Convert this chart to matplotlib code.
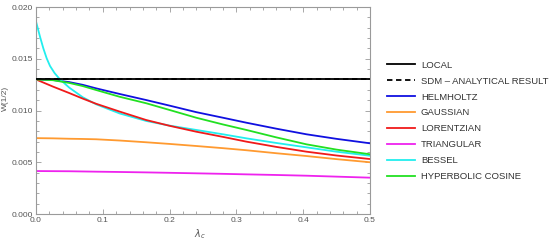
import matplotlib
matplotlib.use("Agg")
import matplotlib.pyplot as plt
from matplotlib.ticker import MultipleLocator, FormatStrFormatter

plt.rcParams['font.family'] = ['Liberation Sans', 'DejaVu Sans']

# data
lam = [0.0, 0.025, 0.05, 0.07, 0.09, 0.125, 0.165, 0.2, 0.24, 0.28, 0.315, 0.36, 0.405, 0.45, 0.5]
local = [0.013] * len(lam)
sdm = [0.013] * len(lam)
helmholtz = [0.01300, 0.01295, 0.01274, 0.01248, 0.01214, 0.01160, 0.01101, 0.01047, 0.00984,
             0.00930, 0.00882, 0.00824, 0.00770, 0.00726, 0.00683]
gaussian = [0.00733, 0.00731, 0.00727, 0.00725, 0.00722, 0.00710, 0.00693, 0.00677, 0.00657,
            0.00636, 0.00616, 0.00587, 0.00560, 0.00530, 0.00500]
lorentzian = [0.01300, 0.01232, 0.01168, 0.01115, 0.01065, 0.00990, 0.00908, 0.00852, 0.00795,
              0.00745, 0.00699, 0.00648, 0.00602, 0.00565, 0.00531]
triangular = [0.00415, 0.00414, 0.00413, 0.00411, 0.00409, 0.00406, 0.00402, 0.00398, 0.00393,
              0.00388, 0.00383, 0.00377, 0.00370, 0.00361, 0.00351]
hypcos = [0.01300, 0.01293, 0.01266, 0.01236, 0.01198, 0.01133, 0.01070, 0.01005, 0.00930,
          0.00865, 0.00812, 0.00740, 0.00673, 0.00622, 0.00577]

lam_b = [0.0, 0.006, 0.011, 0.016, 0.021, 0.028, 0.036, 0.05, 0.07, 0.09, 0.125, 0.165, 0.2,
         0.24, 0.28, 0.315, 0.36, 0.405, 0.45, 0.5]
bessel = [0.0186, 0.01713, 0.0160, 0.01504, 0.0143, 0.0136, 0.0130, 0.0122, 0.01128, 0.0106,
          0.00972, 0.00899, 0.00854, 0.00812, 0.00770, 0.00731, 0.00686, 0.00644, 0.00602, 0.00563]

labels = ["LOCAL", "SDM \u2013 ANALYTICAL RESULT", "HELMHOLTZ", "GAUSSIAN", "LORENTZIAN",
          "TRIANGULAR", "BESSEL", "HYPERBOLIC COSINE"]
colors = ["black", "black", "#1010e0", "#ff9a30", "#f01a1a", "#ee22ee", "#22eeee", "#22e022"]

fig = plt.figure(figsize=(5.5, 2.43), dpi=100)
ax = fig.add_axes([36/550, 1-214/243, (370-36)/550, (214-7)/243])

lw = 1.3
ax.plot(lam, sdm, color=colors[1], ls=(0, (3, 2)), lw=lw, label=labels[1], zorder=1)
ax.plot(lam, local, color=colors[0], lw=lw, label=labels[0], zorder=3)
ax.plot(lam, helmholtz, color=colors[2], lw=lw, label=labels[2])
ax.plot(lam, gaussian, color=colors[3], lw=lw, label=labels[3])
ax.plot(lam_b, bessel, color=colors[6], lw=lw, label=labels[6])
ax.plot(lam, lorentzian, color=colors[4], lw=lw, label=labels[4])
ax.plot(lam, triangular, color=colors[5], lw=lw, label=labels[5])
ax.plot(lam, hypcos, color=colors[7], lw=lw, label=labels[7])

ax.set_xlim(0, 0.5)
ax.set_ylim(0, 0.02)
ax.xaxis.set_major_locator(MultipleLocator(0.1))
ax.xaxis.set_minor_locator(MultipleLocator(0.02))
ax.yaxis.set_major_locator(MultipleLocator(0.005))
ax.yaxis.set_minor_locator(MultipleLocator(0.001))
ax.xaxis.set_major_formatter(FormatStrFormatter('%.1f'))
ax.yaxis.set_major_formatter(FormatStrFormatter('%.3f'))

fc = '#9a9a9a'
for s in ax.spines.values():
    s.set_color(fc)
    s.set_linewidth(0.8)
ax.tick_params(which='both', direction='in', top=True, right=True, color=fc,
               labelsize=6, labelcolor='#555555', width=0.6, pad=2)
ax.tick_params(which='major', length=3.5)
ax.tick_params(which='minor', length=2)

ax.set_xlabel(r'$\lambda_c$', fontsize=7, color='#555555')
ax.xaxis.set_label_coords(0.49, -0.065)
ax.set_ylabel('W(1/2)', fontsize=6, color='#555555', va='center')
ax.yaxis.set_label_coords(-0.092, 0.56)

handles, labs = ax.get_legend_handles_labels()
hmap = dict(zip(labs, handles))
leg = fig.legend([hmap[l] for l in labels], labels, loc='upper left',
                 bbox_to_anchor=(383/550, 1-57/243), frameon=False, fontsize=6.8,
                 handlelength=3.0, handletextpad=0.6, labelspacing=0.73,
                 borderaxespad=0)
for t in leg.get_texts():
    t.set_color('#333333')

fig.savefig('out.png', dpi=100)
